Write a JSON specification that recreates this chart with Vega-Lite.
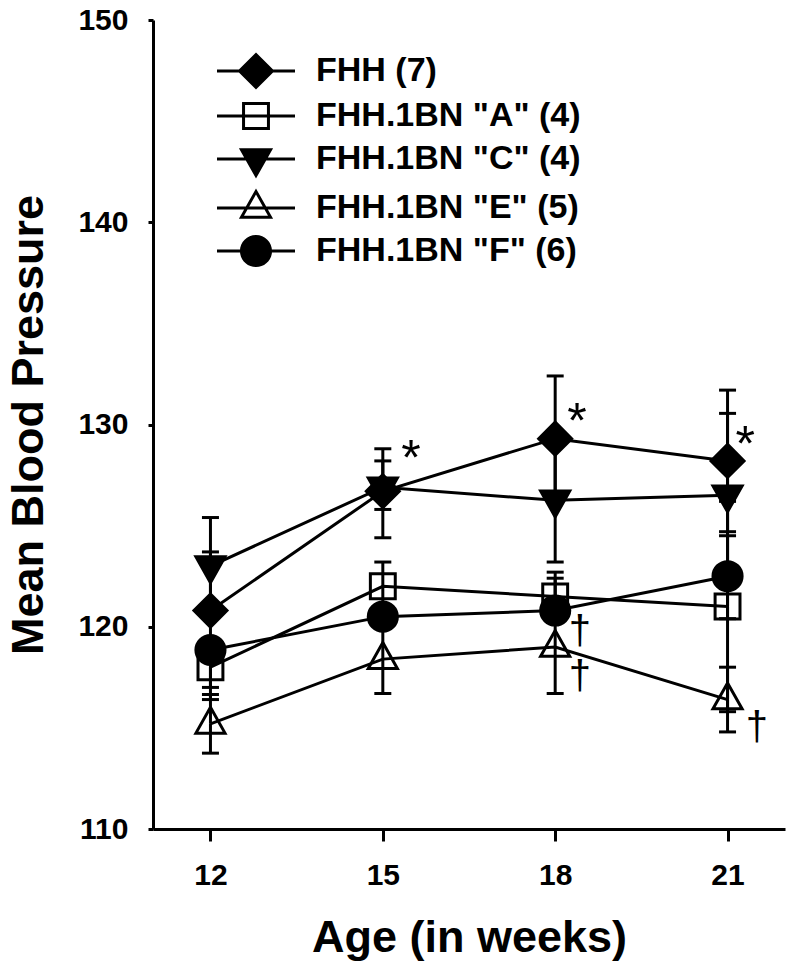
{
  "$schema": "https://vega.github.io/schema/vega-lite/v6.json",
  "width": 632,
  "height": 809,
  "padding": {"left": 153, "top": 20, "right": 5, "bottom": 151},
  "autosize": {"type": "none"},
  "background": "white",
  "config": {
    "view": {"stroke": null},
    "font": "Liberation Sans",
    "axis": {
      "grid": false,
      "domainColor": "black",
      "domainWidth": 3,
      "tickColor": "black",
      "tickWidth": 3,
      "labelColor": "black",
      "labelFont": "Liberation Sans",
      "labelFontWeight": "bold",
      "labelFontSize": 30,
      "labelFlush": false,
      "labelOverlap": false,
      "labelBound": false,
      "titleColor": "black",
      "titleFont": "Liberation Sans",
      "titleFontWeight": "bold",
      "titleFontSize": 45
    }
  },
  "resolve": {"scale": {"shape": "independent"}, "legend": {"shape": "independent"}},
  "datasets": {
    "bp": [
      {"group": "FHH (7)", "week": 12, "mean": 120.8},
      {"group": "FHH (7)", "week": 15, "mean": 126.7},
      {"group": "FHH (7)", "week": 18, "mean": 129.3},
      {"group": "FHH (7)", "week": 21, "mean": 128.2},
      {"group": "FHH.1BN \"A\" (4)", "week": 12, "mean": 118.0},
      {"group": "FHH.1BN \"A\" (4)", "week": 15, "mean": 122.0},
      {"group": "FHH.1BN \"A\" (4)", "week": 18, "mean": 121.5},
      {"group": "FHH.1BN \"A\" (4)", "week": 21, "mean": 121.0},
      {"group": "FHH.1BN \"C\" (4)", "week": 12, "mean": 123.0},
      {"group": "FHH.1BN \"C\" (4)", "week": 15, "mean": 126.9},
      {"group": "FHH.1BN \"C\" (4)", "week": 18, "mean": 126.25},
      {"group": "FHH.1BN \"C\" (4)", "week": 21, "mean": 126.5},
      {"group": "FHH.1BN \"E\" (5)", "week": 12, "mean": 115.2},
      {"group": "FHH.1BN \"E\" (5)", "week": 15, "mean": 118.4},
      {"group": "FHH.1BN \"E\" (5)", "week": 18, "mean": 119.0},
      {"group": "FHH.1BN \"E\" (5)", "week": 21, "mean": 116.4},
      {"group": "FHH.1BN \"F\" (6)", "week": 12, "mean": 118.85},
      {"group": "FHH.1BN \"F\" (6)", "week": 15, "mean": 120.5},
      {"group": "FHH.1BN \"F\" (6)", "week": 18, "mean": 120.8},
      {"group": "FHH.1BN \"F\" (6)", "week": 21, "mean": 122.5}
    ],
    "whiskers": [
      {"group": "FHH (7)", "week": 12, "mean": 120.8, "end": 123.7},
      {"group": "FHH (7)", "week": 12, "mean": 120.8, "end": 119.0},
      {"group": "FHH.1BN \"C\" (4)", "week": 12, "mean": 123.0, "end": 125.4},
      {"group": "FHH.1BN \"C\" (4)", "week": 12, "mean": 123.0, "end": 121.2},
      {"group": "FHH.1BN \"A\" (4)", "week": 12, "mean": 118.0, "end": 117.0},
      {"group": "FHH.1BN \"F\" (6)", "week": 12, "mean": 118.85, "end": 116.4},
      {"group": "FHH.1BN \"E\" (5)", "week": 12, "mean": 115.2, "end": 116.65},
      {"group": "FHH.1BN \"E\" (5)", "week": 12, "mean": 115.2, "end": 113.75},
      {"group": "FHH (7)", "week": 15, "mean": 126.7, "end": 128.8},
      {"group": "FHH (7)", "week": 15, "mean": 126.7, "end": 124.4},
      {"group": "FHH.1BN \"C\" (4)", "week": 15, "mean": 126.9, "end": 128.2},
      {"group": "FHH.1BN \"C\" (4)", "week": 15, "mean": 126.9, "end": 125.8},
      {"group": "FHH.1BN \"A\" (4)", "week": 15, "mean": 122.0, "end": 123.2},
      {"group": "FHH.1BN \"A\" (4)", "week": 15, "mean": 122.0, "end": 121.0},
      {"group": "FHH.1BN \"E\" (5)", "week": 15, "mean": 118.4, "end": 120.1},
      {"group": "FHH.1BN \"E\" (5)", "week": 15, "mean": 118.4, "end": 116.7},
      {"group": "FHH (7)", "week": 18, "mean": 129.3, "end": 132.4},
      {"group": "FHH (7)", "week": 18, "mean": 129.3, "end": 126.3},
      {"group": "FHH.1BN \"C\" (4)", "week": 18, "mean": 126.25, "end": 129.3},
      {"group": "FHH.1BN \"C\" (4)", "week": 18, "mean": 126.25, "end": 123.2},
      {"group": "FHH.1BN \"A\" (4)", "week": 18, "mean": 121.5, "end": 122.4},
      {"group": "FHH.1BN \"F\" (6)", "week": 18, "mean": 120.8, "end": 122.7},
      {"group": "FHH.1BN \"E\" (5)", "week": 18, "mean": 119.0, "end": 120.8},
      {"group": "FHH.1BN \"E\" (5)", "week": 18, "mean": 119.0, "end": 116.7},
      {"group": "FHH (7)", "week": 21, "mean": 128.2, "end": 131.7},
      {"group": "FHH (7)", "week": 21, "mean": 128.2, "end": 124.7},
      {"group": "FHH.1BN \"C\" (4)", "week": 21, "mean": 126.5, "end": 130.55},
      {"group": "FHH.1BN \"C\" (4)", "week": 21, "mean": 126.5, "end": 122.5},
      {"group": "FHH.1BN \"F\" (6)", "week": 21, "mean": 122.5, "end": 124.5},
      {"group": "FHH.1BN \"F\" (6)", "week": 21, "mean": 122.5, "end": 120.4},
      {"group": "FHH.1BN \"A\" (4)", "week": 21, "mean": 121.0, "end": 126.2},
      {"group": "FHH.1BN \"A\" (4)", "week": 21, "mean": 121.0, "end": 115.8},
      {"group": "FHH.1BN \"E\" (5)", "week": 21, "mean": 116.4, "end": 118.0},
      {"group": "FHH.1BN \"E\" (5)", "week": 21, "mean": 116.4, "end": 114.8}
    ],
    "notes": [
      {"week": 15.49, "value": 128.9, "label": "*"},
      {"week": 18.38, "value": 130.7, "label": "*"},
      {"week": 21.31, "value": 129.6, "label": "*"},
      {"week": 18.43, "value": 119.76, "label": "†"},
      {"week": 18.43, "value": 117.5, "label": "†"},
      {"week": 21.51, "value": 115.0, "label": "†"}
    ]
  },
  "layer": [
    {
      "data": {"name": "bp"},
      "mark": {"type": "line", "color": "black", "strokeWidth": 3},
      "encoding": {
        "x": {"field": "week", "type": "quantitative",
              "scale": {"domain": [11, 22], "nice": false, "zero": false},
              "axis": {"values": [12, 15, 18, 21], "format": "d", "tickSize": 12, "labelPadding": 19, "title": "Age (in weeks)", "titlePadding": 25}},
        "y": {"field": "mean", "type": "quantitative",
              "scale": {"domain": [110, 150], "nice": false, "zero": false},
              "axis": {"values": [110, 120, 130, 140, 150], "format": "d", "tickSize": 5, "labelPadding": 20, "title": "Mean Blood Pressure", "titlePadding": 26}},
        "detail": {"field": "group", "type": "nominal"}
      }
    },
    {
      "data": {"name": "whiskers"},
      "mark": {"type": "rule", "color": "black", "strokeWidth": 3},
      "encoding": {
        "x": {"field": "week", "type": "quantitative"},
        "y": {"field": "mean", "type": "quantitative"},
        "y2": {"field": "end"}
      }
    },
    {
      "data": {"name": "whiskers"},
      "mark": {"type": "tick", "orient": "horizontal", "color": "black", "size": 17, "thickness": 3, "opacity": 1},
      "encoding": {
        "x": {"field": "week", "type": "quantitative"},
        "y": {"field": "end", "type": "quantitative"}
      }
    },
    {
      "data": {"name": "bp"},
      "mark": {"type": "point", "filled": true, "stroke": "black", "strokeWidth": 3, "size": 900, "opacity": 1},
      "encoding": {
        "x": {"field": "week", "type": "quantitative"},
        "y": {"field": "mean", "type": "quantitative"},
        "shape": {
          "field": "group", "type": "nominal",
          "scale": {
            "domain": ["FHH (7)", "FHH.1BN \"A\" (4)", "FHH.1BN \"C\" (4)", "FHH.1BN \"E\" (5)", "FHH.1BN \"F\" (6)"],
            "range": [
              "M0,-1.1L1.1,0L0,1.1L-1.1,0Z",
              "M-0.83,-0.83H0.83V0.83H-0.83Z",
              "M-0.97,-0.62H0.97L0,1.1Z",
              "M0,-1.1L0.97,0.62H-0.97Z",
              "M0.97,0A0.97,0.97,0,1,1,-0.97,0A0.97,0.97,0,1,1,0.97,0Z"
            ]
          },
          "legend": null
        },
        "fill": {
          "field": "group", "type": "nominal",
          "scale": {
            "domain": ["FHH (7)", "FHH.1BN \"A\" (4)", "FHH.1BN \"C\" (4)", "FHH.1BN \"E\" (5)", "FHH.1BN \"F\" (6)"],
            "range": ["black", "transparent", "black", "transparent", "black"]
          },
          "legend": null
        }
      }
    },
    {
      "data": {"name": "bp"},
      "transform": [{"filter": "false"}],
      "mark": {"type": "point", "filled": true, "color": "black", "strokeWidth": 0, "size": 900, "opacity": 1},
      "encoding": {
        "x": {"field": "week", "type": "quantitative"},
        "y": {"field": "mean", "type": "quantitative"},
        "shape": {
          "field": "group", "type": "nominal",
          "scale": {
            "domain": ["FHH (7)", "FHH.1BN \"A\" (4)", "FHH.1BN \"C\" (4)", "FHH.1BN \"E\" (5)", "FHH.1BN \"F\" (6)"],
            "range": [
              "M-2.6,-0.1H2.6V0.1H-2.6ZM0,-1.24L1.24,0L0,1.24L-1.24,0Z",
              "M-2.6,-0.1H2.6V0.1H-2.6ZM-0.93,-0.93H0.93V0.93H-0.93ZM-0.73,-0.73V0.73H0.73V-0.73Z",
              "M-2.6,-0.1H2.6V0.1H-2.6ZM-1.14,-0.72H1.14L0,1.3Z",
              "M-2.6,-0.1H2.6V0.1H-2.6ZM0,-1.3L1.14,0.72H-1.14ZM0,-0.9L-0.8,0.52H0.8Z",
              "M-2.6,-0.1H2.6V0.1H-2.6ZM1.07,0A1.07,1.07,0,1,1,-1.07,0A1.07,1.07,0,1,1,1.07,0Z"
            ]
          },
          "legend": {
            "title": null,
            "orient": "none",
            "legendX": 86,
            "legendY": 34,
            "symbolSize": 900,
            "symbolStrokeWidth": 0,
            "symbolFillColor": "black",
            "labelFont": "Liberation Sans",
            "labelFontWeight": "bold",
            "labelFontSize": 34,
            "labelColor": "black",
            "labelOffset": 43,
            "labelLimit": 500,
            "rowPadding": 9
          }
        }
      }
    },
    {
      "data": {"name": "notes"},
      "transform": [{"filter": "datum.label == '*'"}],
      "mark": {"type": "text", "color": "black", "font": "Liberation Sans", "fontSize": 50, "align": "center", "baseline": "middle", "dy": 13},
      "encoding": {
        "x": {"field": "week", "type": "quantitative"},
        "y": {"field": "value", "type": "quantitative"},
        "text": {"field": "label"}
      }
    },
    {
      "data": {"name": "notes"},
      "transform": [{"filter": "datum.label != '*'"}],
      "mark": {"type": "text", "color": "black", "font": "Liberation Sans", "fontSize": 40, "align": "center", "baseline": "middle"},
      "encoding": {
        "x": {"field": "week", "type": "quantitative"},
        "y": {"field": "value", "type": "quantitative"},
        "text": {"field": "label"}
      }
    }
  ]
}
